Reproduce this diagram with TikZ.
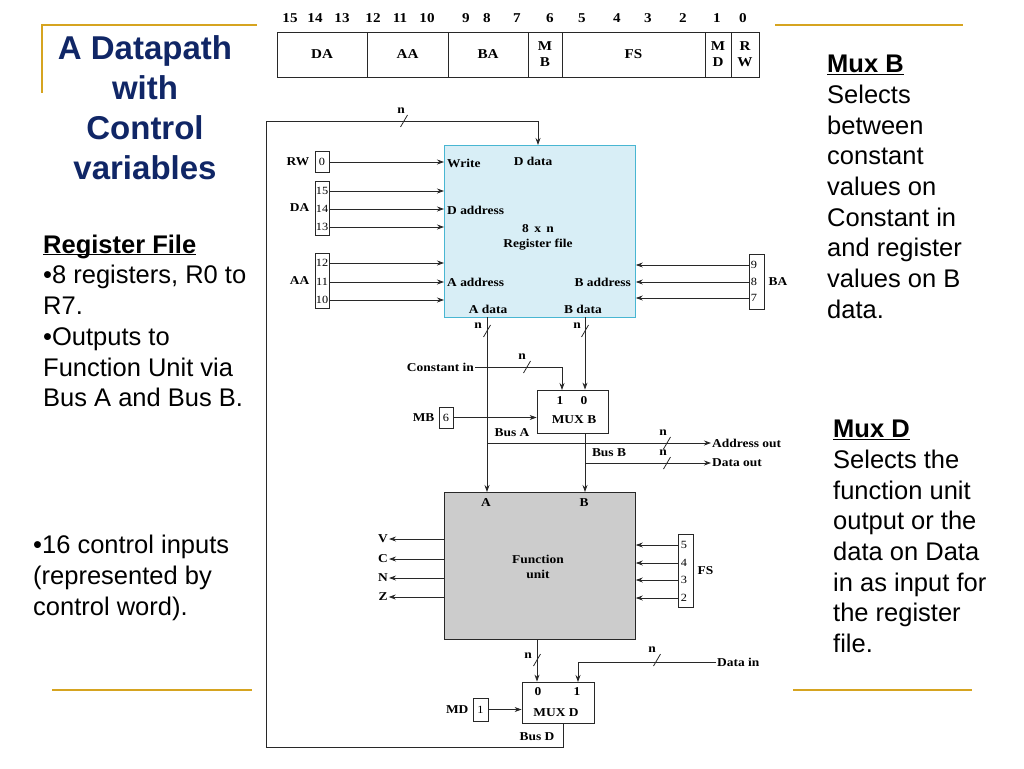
\documentclass[tikz,border=0pt]{standalone}
\usepackage{fontspec}
\setmainfont{Liberation Serif}
\setsansfont{Liberation Sans}
\newfontfamily\diagfont[FakeStretch=1.12]{Liberation Serif}
\usepackage{tikz}
\usetikzlibrary{arrows.meta,positioning}
\usepackage{xcolor}

\definecolor{navy}{RGB}{16,38,102}
\definecolor{gold}{RGB}{214,164,32}
\definecolor{rfblue}{RGB}{216,238,246}
\definecolor{rfedge}{RGB}{72,182,210}
\definecolor{fugray}{RGB}{204,204,204}
\definecolor{wiregray}{RGB}{40,40,40}

\tikzset{
  lbl/.style={font=\diagfont\fontsize{12}{13}\selectfont\bfseries, inner sep=1pt},
  bitnum/.style={lbl, font=\diagfont\fontsize{13.5}{14}\selectfont\bfseries},
  num/.style={font=\diagfont\fontsize{11}{12}\selectfont, inner sep=0pt},
  bitbox/.style={draw=wiregray, line width=0.8pt, minimum width=14pt, inner sep=0pt},
  field/.style={draw=wiregray, line width=0.8pt, minimum height=45pt, outer sep=0pt, inner sep=0pt,
    font=\diagfont\fontsize{13.5}{16}\selectfont\bfseries, align=center},
  wire/.style={draw=wiregray, line width=0.8pt},
  arr/.style={-{Stealth[length=7pt,width=5pt]}},
  mux/.style={draw=wiregray, line width=0.8pt, fill=white},
  note/.style={font=\sffamily\fontsize{25.5}{30.7}\selectfont, align=left, anchor=north west, inner sep=0pt},
  goldline/.style={draw=gold, line width=2pt}
}

\begin{document}
\begin{tikzpicture}[x=1pt, y=-1pt]
\useasboundingbox (0,0) rectangle (1024,768);

% slide text
\draw[goldline] (257,25) -- (42,25) -- (42,93);
\draw[goldline] (775,25) -- (963,25);
\draw[goldline] (52,690) -- (252,690);
\draw[goldline] (793,690) -- (972,690);
\node[font=\sffamily\bfseries\fontsize{33}{40}\selectfont, text=navy, align=center, anchor=north, inner sep=0pt] (title) at (145,35) {A Datapath\\with\\Control\\variables};
\node[note] (regnote) at (43,253) {\textbf{\underline{\smash{Register File}}}\\\textbullet 8 registers, R0 to\\R7.\\\textbullet Outputs to\\Function Unit via\\Bus A and Bus B.};
\node[note] (ctrlnote) at (33,535) {\textbullet 16 control inputs\\(represented by\\control word).};
\node[note] (muxbnote) at (827,55) {\textbf{\underline{Mux B}}\\Selects\\between\\constant\\values on\\Constant in\\and register\\values on B\\data.};
\node[note] (muxdnote) at (833,420) {\textbf{\underline{Mux D}}\\Selects the\\function unit\\output or the\\data on Data\\in as input for\\the register\\file.};

% control word
\node[field, minimum width=90pt, anchor=north west] (cwda) at (277,32) {DA};
\node[field, minimum width=81pt, right=0pt of cwda] (cwaa) {AA};
\node[field, minimum width=80pt, right=0pt of cwaa] (cwba) {BA};
\node[field, minimum width=34pt, right=0pt of cwba] (cwmb) {M\\B};
\node[field, minimum width=143pt, right=0pt of cwmb] (cwfs) {FS};
\node[field, minimum width=26pt, right=0pt of cwfs] (cwmd) {M\\D};
\node[field, minimum width=28pt, right=0pt of cwmd] (cwrw) {R\\W};
\node[bitnum] (b15) at (290,18) {15};
\node[bitnum] (b14) at (315,18) {14};
\node[bitnum] (b13) at (342,18) {13};
\node[bitnum] (b12) at (373,18) {12};
\node[bitnum] (b11) at (400,18) {11};
\node[bitnum] (b10) at (427,18) {10};
\node[bitnum] (b9) at (466,18) {9};
\node[bitnum] (b8) at (487,18) {8};
\node[bitnum] (b7) at (517,18) {7};
\node[bitnum] (b6) at (550,18) {6};
\node[bitnum] (b5) at (582,18) {5};
\node[bitnum] (b4) at (617,18) {4};
\node[bitnum] (b3) at (648,18) {3};
\node[bitnum] (b2) at (683,18) {2};
\node[bitnum] (b1) at (717,18) {1};
\node[bitnum] (b0) at (743,18) {0};

% register file
\node[draw=rfedge, fill=rfblue, line width=0.8pt, minimum width=191pt, minimum height=172pt, anchor=north west] (rf) at (444,145) {};
\node[lbl, anchor=west] (rfwrite) at (446,163) {Write};
\node[lbl] (rfddata) at (533,161) {D data};
\node[lbl, anchor=west] (rfdaddr) at (446,210) {D address};
\node[lbl] (rfsize) at (538,229) {8\, x\, n};
\node[lbl] (rfname) at (538,245) {Register file};
\node[lbl, anchor=west] (rfaaddr) at (446,282) {A address};
\node[lbl, anchor=east] (rfbaddr) at (632,282) {B address};
\node[lbl] (rfadata) at (488,309) {A data};
\node[lbl] (rfbdata) at (583,309) {B data};

% register file inputs
\node[bitbox, num, minimum height=21pt] (rwbox) at (322,162) {0};
\node[lbl, left=4pt of rwbox] (rwlbl) {RW};
\draw[wire, arr] (rwbox.east) -- (rwbox.east -| rf.west);
\node[bitbox, minimum height=54pt] (dabox) at (322,208) {};
\node[num] (da15) at (322,191) {15};
\node[num] (da14) at (322,209) {14};
\node[num] (da13) at (322,227) {13};
\node[lbl, left=4pt of dabox] (dalbl) {DA};
\draw[wire, arr] (da15 -| dabox.east) -- (da15 -| rf.west);
\draw[wire, arr] (da14 -| dabox.east) -- (da14 -| rf.west);
\draw[wire, arr] (da13 -| dabox.east) -- (da13 -| rf.west);
\node[bitbox, minimum height=55pt] (aabox) at (322,281) {};
\node[num] (aa12) at (322,263) {12};
\node[num] (aa11) at (322,282) {11};
\node[num] (aa10) at (322,300) {10};
\node[lbl, left=4pt of aabox] (aalbl) {AA};
\draw[wire, arr] (aa12 -| aabox.east) -- (aa12 -| rf.west);
\draw[wire, arr] (aa11 -| aabox.east) -- (aa11 -| rf.west);
\draw[wire, arr] (aa10 -| aabox.east) -- (aa10 -| rf.west);
\node[bitbox, minimum width=15pt, minimum height=55pt] (babox) at (756.5,281.5) {};
\node[num] (ba9) at (754,265) {9};
\node[num] (ba8) at (754,282) {8};
\node[num] (ba7) at (754,298) {7};
\node[lbl, right=3pt of babox] (balbl) {BA};
\draw[wire, arr] (ba9 -| babox.west) -- (ba9 -| rf.east);
\draw[wire, arr] (ba8 -| babox.west) -- (ba8 -| rf.east);
\draw[wire, arr] (ba7 -| babox.west) -- (ba7 -| rf.east);

% mux B and buses
\node[mux, minimum width=71pt, minimum height=43pt] (muxb) at (572.5,411.5) {};
\node[lbl] (muxb1) at (560,401) {1};
\node[lbl] (muxb0) at (584,401) {0};
\node[lbl] (muxbname) at (574,420) {MUX B};
\coordinate (abus) at (487,317);
\coordinate (bbus) at (585,317);
\coordinate (muxbin) at (562,390);
\coordinate (busa) at (487,443);
\coordinate (busb) at (585,463);
\node[lbl, anchor=east] (constin) at (475,367) {Constant in};
\draw[wire, arr] (constin.east) -| (muxbin);
\draw[wire, arr] (bbus) -- (bbus |- muxb.north);
\node[bitbox, num, minimum height=21pt] (mbbox) at (446,417.5) {6};
\node[lbl, left=3pt of mbbox] (mblbl) {MB};
\draw[wire, arr] (mbbox.east) -- (mbbox.east -| muxb.west);
\node[lbl, anchor=west] (addrout) at (711,443) {Address out};
\node[lbl, anchor=west] (dataout) at (711,463) {Data out};
\draw[wire, arr] (busa) -- (addrout.west);
\draw[wire, arr] (busb) -- (dataout.west);
\node[lbl] (busalbl) at (512,433) {Bus A};
\node[lbl] (busblbl) at (609,453) {Bus B};

% function unit
\node[draw=wiregray, fill=fugray, line width=0.8pt, minimum width=191pt, minimum height=147pt, anchor=north west] (fu) at (444,492) {};
\draw[wire, arr] (abus) -- (abus |- fu.north);
\draw[wire, arr] (bbus |- muxb.south) -- (bbus |- fu.north);
\node[lbl] (fua) at (486,503) {A};
\node[lbl] (fub) at (584,503) {B};
\node[lbl, align=center, font=\diagfont\fontsize{12}{15.5}\selectfont\bfseries] (funame) at (538,567) {Function\\unit};
\node[lbl] (flagv) at (383,539) {V};
\node[lbl] (flagc) at (383,559) {C};
\node[lbl] (flagn) at (383,578) {N};
\node[lbl] (flagz) at (383,597) {Z};
\draw[wire, arr] (flagv -| fu.west) -- (flagv.east);
\draw[wire, arr] (flagc -| fu.west) -- (flagc.east);
\draw[wire, arr] (flagn -| fu.west) -- (flagn.east);
\draw[wire, arr] (flagz -| fu.west) -- (flagz.east);
\node[bitbox, minimum width=15pt, minimum height=73pt] (fsbox) at (685.5,570.5) {};
\node[num] (fs5) at (684,545) {5};
\node[num] (fs4) at (684,563) {4};
\node[num] (fs3) at (684,580) {3};
\node[num] (fs2) at (684,598) {2};
\node[lbl, right=3pt of fsbox] (fslbl) {FS};
\draw[wire, arr] (fs5 -| fsbox.west) -- (fs5 -| fu.east);
\draw[wire, arr] (fs4 -| fsbox.west) -- (fs4 -| fu.east);
\draw[wire, arr] (fs3 -| fsbox.west) -- (fs3 -| fu.east);
\draw[wire, arr] (fs2 -| fsbox.west) -- (fs2 -| fu.east);

% mux D and bus D
\node[mux, minimum width=72pt, minimum height=41pt] (muxd) at (558,702.5) {};
\node[lbl] (muxd0) at (538,692) {0};
\node[lbl] (muxd1) at (577,692) {1};
\node[lbl] (muxdname) at (556,713) {MUX D};
\coordinate (fuout) at (537,639);
\coordinate (muxdin) at (578,682);
\draw[wire, arr] (fuout) -- (fuout |- muxd.north);
\node[lbl, anchor=west] (datain) at (716,662) {Data in};
\draw[wire, arr] (datain.west) -| (muxdin);
\node[bitbox, num, minimum width=15pt, minimum height=23pt] (mdbox) at (480.5,709.5) {1};
\node[lbl, left=3pt of mdbox] (mdlbl) {MD};
\draw[wire, arr] (mdbox.east) -- (mdbox.east -| muxd.west);
\coordinate (busd) at (563,723);
\coordinate (loopbl) at (266,747);
\coordinate (looptop) at (538,121);
\draw[wire, arr] (busd) |- (loopbl) |- (looptop) -- (looptop |- rf.north);
\node[lbl] (busdlbl) at (537,737) {Bus D};

% bus widths
\draw[wire] (404,121) ++(-3.5,6) -- ++(7,-12);
\node[lbl] (nloop) at (401,111) {n};
\draw[wire] (487,331) ++(-3.5,6) -- ++(7,-12);
\node[lbl] (nabus) at (478,326) {n};
\draw[wire] (585,331) ++(-3.5,6) -- ++(7,-12);
\node[lbl] (nbbus) at (577,326) {n};
\draw[wire] (527,367) ++(-3.5,6) -- ++(7,-12);
\node[lbl] (nconst) at (522,357) {n};
\draw[wire] (667,443) ++(-3.5,6) -- ++(7,-12);
\node[lbl] (naddr) at (663,433) {n};
\draw[wire] (667,463) ++(-3.5,6) -- ++(7,-12);
\node[lbl] (ndata) at (663,453) {n};
\draw[wire] (537,660) ++(-3.5,6) -- ++(7,-12);
\node[lbl] (nfuout) at (528,656) {n};
\draw[wire] (657,660) ++(-3.5,6) -- ++(7,-12);
\node[lbl] (ndatain) at (652,650) {n};

\end{tikzpicture}
\end{document}
